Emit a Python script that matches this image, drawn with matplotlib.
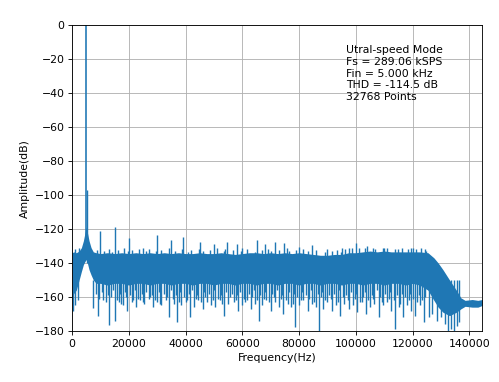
import numpy as np
import matplotlib
matplotlib.use("Agg")
import matplotlib.pyplot as plt

# FFT spectrum, values
fs = 289060.0
fin = 5000.0

# noise floor envelope (Hz, dB)
floor_freq = [0, 600, 1500, 2500, 3300, 4000, 4600, 5000, 5400, 6000, 6700, 7500,
              8500, 10000, 12500, 15000, 17500, 20000, 22500, 25000, 27500, 30000,
              32500, 35000, 37500, 40000, 42500, 45000, 47500, 50000, 52500, 55000,
              57500, 60000, 62500, 65000, 67500, 70000, 72500, 75000, 77500, 80000,
              82500, 85000, 87500, 90000, 92500, 95000, 97500, 100000, 102500, 105000,
              107500, 110000, 112500, 115000, 117500, 120000, 122500, 125400, 127500,
              129000, 130700, 133000, 135400, 137000, 138500, 141000, 143000, 144530]
floor_top = [-134, -133.5, -134, -133, -131, -127, -122, -119, -122, -127, -131, -133.5,
             -134, -134.5, -134, -134.5, -134, -134.5, -134, -134.5, -134, -134.5,
             -134, -134.5, -134, -134.5, -134.5, -134, -134.5, -134.5, -134, -134.5,
             -135, -134.5, -134, -134, -134.5, -134, -134.5, -134, -134.5, -134,
             -134.5, -135, -135.5, -135.5, -135, -135, -134, -134, -133.5, -133,
             -133.5, -133, -133.5, -133.5, -133.5, -133.5, -133.5, -134, -137,
             -140, -144, -150, -156, -160.5, -162, -161.5, -162, -161.5]
floor_bottom = [-160, -158, -156, -150, -145, -141, -139, -138, -140, -144, -147, -150,
                -152, -152, -153, -152, -152, -153, -152, -152, -153, -152, -152,
                -153, -152, -152, -153, -152, -152, -153, -152, -152, -153, -152,
                -152, -153, -152, -152, -153, -152, -152, -153, -152, -152, -153,
                -152, -152, -153, -152, -152, -153, -152, -152, -153, -152, -152,
                -153, -152, -153, -156, -162,
                -166, -169, -171, -169, -167, -165.5, -166, -166, -165]

# upward spurs (harmonics and strongest noise peaks)
up_freq = [5150, 10000, 15000, 20000, 25000, 30000, 35000, 39000, 45000, 50000,
           54700, 58000, 60000, 65000, 68000, 71400, 74700, 80000, 84700, 90000,
           95000, 97600, 100200, 104000, 110000, 115000, 120000, 124800]
up_level = [-97, -121.5, -119, -125.5, -131, -123.5, -126.5, -125, -127.5, -129,
            -127.5, -129, -131, -126.5, -129, -127.8, -128.4, -130.6, -129.5, -132,
            -131, -131.5, -128.4, -130, -131, -132, -131.5, -132.9]

# small ripples on the top of the floor
ripple_freq = [1200, 2600, 8900, 11300, 12900, 14100, 16300, 18200, 19700, 21100,
               23700, 26000, 27200, 29700, 31400, 34100, 36200, 38700, 40900, 41800,
               44600, 46200, 48700, 51000, 53600, 54000, 56800, 59600, 61700, 64400,
               66900, 69100, 70100, 72800, 75700, 76300, 79000, 81400, 83200, 86000,
               89000, 91600, 93200, 94700, 96300, 98700, 101000, 103400, 105900, 106800,
               109400, 111000, 113800, 116400, 118300, 119600, 121200, 123000, 124200]
ripple_level = [-132, -131.5, -132.5, -133, -132, -133.5, -132.5, -131.5, -133, -132.5,
                -132, -133, -132, -133, -132.5, -131.5, -133, -132, -133.5, -132.5,
                -132, -133, -132.5, -131.5, -133, -132, -132.5, -133, -132, -133.5,
                -132.5, -132, -133, -132.5, -131.5, -133, -132.5, -132, -133, -132.5,
                -133.5, -133, -132.5, -133.5, -132, -131.5, -131, -131.5, -131, -132,
                -131.5, -131, -132, -131.5, -132, -131, -132, -131.5, -132]

# deep downward dips
down_freq = [300, 1200, 2000, 7400, 9200, 11000, 13100, 15200, 16500, 18000,
             19500, 21000, 22500, 24000, 25500, 27000, 28500, 30000, 31500, 33000,
             34300, 36000, 37000, 38500, 40000, 41700, 43000, 44500, 46000, 47500,
             49000, 50500, 52000, 53400, 55000, 57000, 58500, 60000, 61500, 63000,
             64500, 65800, 67000, 68500, 70000, 71500, 73000, 74500, 76000, 77200,
             78500, 80000, 81500, 83000, 84500, 86000, 87000, 88500, 90000, 91500,
             93000, 94500, 96000, 97500, 99000, 100500, 102000, 103500, 105000,
             106500, 108000, 109500, 111000, 112500, 113800, 115200, 116500, 118000,
             119500, 121000, 122500, 124000, 125800, 127000, 128500, 130000, 131500,
             132500, 133500, 134500, 135500, 136500]
down_level = [-168, -165, -162, -166.5, -171, -162, -176.5, -174, -163, -165,
              -168, -163, -166, -162, -164, -161, -166, -163, -165, -162,
              -171.5, -164, -175, -165, -163, -172, -166, -162, -167, -163,
              -165, -166, -162, -171, -164, -163, -168, -165, -162, -167,
              -164, -174, -165, -162, -168, -163, -166, -170, -164, -166,
              -177.5, -165, -162, -168, -164, -166, -180, -167, -163, -168,
              -165, -171, -164, -167, -165, -169, -163, -170, -166,
              -164, -172, -165, -163, -168, -179, -166, -172, -165,
              -168, -171, -165, -175, -172, -170, -174, -172, -176,
              -180, -179, -180, -177, -175]

# shallow dips that make the ragged lower edge of the floor
dip_freq = [8300, 9600, 10700, 11900, 12600, 13800, 14500, 15900, 16900, 17400,
            18600, 19100, 20300, 21500, 22100, 23200, 24600, 25100, 26200, 27600,
            28100, 29300, 30600, 31100, 32300, 33500, 34900, 35400, 36500, 37700,
            38100, 39300, 40600, 41200, 42300, 43600, 44100, 45300, 46500, 47000,
            48200, 49500, 50100, 51300, 52600, 53000, 54200, 55600, 56200, 57600,
            58000, 59300, 60600, 61100, 62300, 63500, 64100, 65200, 66300, 67600,
            68000, 69300, 70500, 71000, 72300, 73600, 74100, 75300, 76500, 77700,
            78100, 79300, 80600, 81100, 82300, 83600, 84100, 85300, 86500, 87600,
            88100, 89300, 90600, 91100, 92300, 93600, 94100, 95300, 96600, 97100,
            98300, 99600, 100100, 101300, 102600, 103100, 104300, 105600, 106100, 107300,
            108600, 109100, 110300, 111600, 112100, 113300, 114600, 115700, 116100, 117300,
            118600, 119100, 120300, 121600, 122100, 123300, 124500]
dip_level = [-158, -161, -157, -163, -159, -160, -156, -162, -158, -164,
             -157, -160, -159, -162, -156, -161, -158, -163, -157, -160,
             -159, -162, -157, -164, -158, -160, -156, -161, -159, -163,
             -157, -160, -162, -158, -156, -161, -159, -163, -157, -160,
             -158, -162, -156, -161, -159, -164, -157, -160, -158, -162,
             -159, -157, -161, -163, -158, -160, -156, -162, -159, -161,
             -157, -163, -158, -160, -156, -161, -159, -162, -157, -164,
             -158, -160, -162, -157, -159, -161, -156, -163, -158, -160,
             -157, -162, -159, -161, -158, -163, -156, -160, -159, -162,
             -157, -161, -158, -163, -160, -157, -162, -159, -161, -156,
             -160, -163, -158, -161, -157, -162, -159, -164, -158, -160,
             -162, -158, -161, -163, -159, -162, -160]

line_color = "#1f77b4"

fig = plt.figure(figsize=(6.4, 4.9), dpi=78)
ax = fig.add_axes([0.1443, 0.1335, 0.8217, 0.8011])

ax.fill_between(floor_freq, floor_bottom, floor_top, color=line_color, lw=0, zorder=2)
ax.vlines(up_freq, -140, up_level, color=line_color, lw=1.3, zorder=2)
ax.vlines(ripple_freq, -140, ripple_level, color=line_color, lw=1.3, zorder=2)
ax.vlines(down_freq, -150, down_level, color=line_color, lw=1.3, zorder=2)
ax.vlines(dip_freq, -150, dip_level, color=line_color, lw=1.3, zorder=2)
ax.vlines([fin], -125, 0, color=line_color, lw=1.5, zorder=2)

ax.set_xlim(0, fs / 2)
ax.set_ylim(-180, 0)
ax.set_yticks(np.arange(-180, 1, 20))
ax.grid(True, zorder=0)
ax.set_axisbelow(True)
ax.set_xlabel("Frequency(Hz)")
ax.set_ylabel("Amplitude(dB)")

info = "Utral-speed Mode\nFs = 289.06 kSPS\nFin = 5.000 kHz\nTHD = -114.5 dB\n32768 Points"
ax.text(96500, -12, info, va="top", ha="left")

fig.savefig("out.png", dpi=78)
